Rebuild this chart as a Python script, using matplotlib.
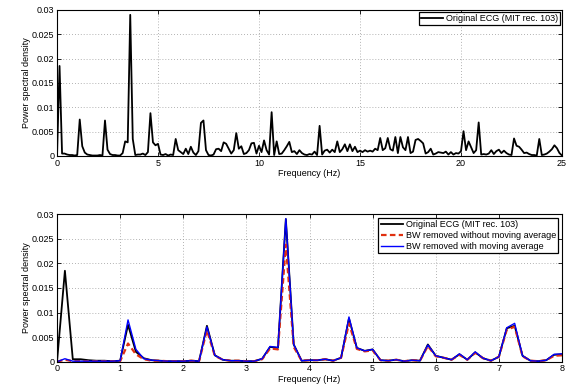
import numpy as np
import matplotlib
matplotlib.use("Agg")
import matplotlib.pyplot as plt

plt.rcParams['font.family'] = ['Liberation Sans', 'DejaVu Sans']

df = 0.125  # frequency resolution (Hz)

# original ECG spectrum, 0..25 Hz
psd_orig = [
    0, 0.0185, 0.0005, 0.0005, 0.0003, 0.0002, 0.0002, 0.0001,
    0.0002, 0.0075, 0.002, 0.0007, 0.0003, 0.0002, 0.0001, 0.0001,
    0.0001, 0.0002, 0.0001, 0.0073, 0.0013, 0.0004, 0.0002, 0.0002,
    0.0001, 0.0001, 0.0006, 0.003, 0.0028, 0.029, 0.0035, 0.0002,
    0.0003, 0.0003, 0.0005, 0.0002, 0.0008, 0.0088, 0.0028, 0.0022,
    0.0025, 0.0003, 0.0002, 0.0004, 0.0001, 0.0003, 0.0002, 0.0035,
    0.0012, 0.0008, 0.0004, 0.0015, 0.0004, 0.0019, 0.0007, 0.0002,
    0.0010, 0.0068, 0.0073, 0.0012, 0.0002, 0.0001, 0.0003, 0.0014,
    0.0015, 0.0010, 0.0028, 0.0025, 0.0015, 0.0005, 0.0012, 0.0047,
    0.0015, 0.0020, 0.0004, 0.0006, 0.0012, 0.0026, 0.0027, 0.0005,
    0.0021, 0.0008, 0.0032, 0.0012, 0.0003, 0.0090, 0.0002, 0.0030,
    0.0004, 0.0005, 0.0012, 0.0020, 0.0029, 0.0008, 0.0010, 0.0004,
    0.0012, 0.0006, 0.0003, 0.0002, 0.0004, 0.0003, 0.0009, 0.0002,
    0.0062, 0.0003, 0.0011, 0.0013, 0.0007, 0.0013, 0.0008, 0.0030,
    0.0008, 0.0014, 0.0024, 0.0010, 0.0024, 0.0010, 0.0019, 0.0008,
    0.0011, 0.0008, 0.0012, 0.0009, 0.0011, 0.0009, 0.0015, 0.0012,
    0.0037, 0.0012, 0.0016, 0.0037, 0.0014, 0.0011, 0.0039, 0.0006,
    0.0039, 0.0018, 0.0012, 0.0039, 0.0006, 0.0009, 0.0033, 0.0035,
    0.0031, 0.0026, 0.0005, 0.0008, 0.0015, 0.0003, 0.0005, 0.0008,
    0.0007, 0.0006, 0.0009, 0.0003, 0.0008, 0.0003, 0.0006, 0.0005,
    0.0010, 0.0051, 0.0012, 0.0030, 0.0018, 0.0006, 0.0012, 0.0069,
    0.0003, 0.0004, 0.0003, 0.0005, 0.0012, 0.0004, 0.0010, 0.0013,
    0.0006, 0.0011, 0.0006, 0.0003, 0.0002, 0.0036, 0.0021, 0.0019,
    0.0013, 0.0006, 0.0007, 0.0004, 0.0002, 0.0002, 0.0001, 0.0035,
    0.0002, 0.0003, 0.0005, 0.0009, 0.0014, 0.0022, 0.0016, 0.0006,
    0.0001,
]

# baseline wander removed, 0..8 Hz
psd_no_ma = [
    0, 0.0004, 0.0001, 0.0001, 0.0001, 0.0001, 0.0001, 0.0001,
    0.0001, 0.0037, 0.0015, 0.0005, 0.0002, 0.0002, 0.0001, 0.0001,
    0.0001, 0.0002, 0.0001, 0.0064, 0.0012, 0.0004, 0.0002, 0.0002,
    0.0001, 0.0001, 0.0005, 0.0027, 0.0025, 0.0238, 0.0030, 0.0002,
    0.0003, 0.0003, 0.0005, 0.0002, 0.0008, 0.0078, 0.0026, 0.0021,
    0.0023, 0.0003, 0.0002, 0.0004, 0.0001, 0.0003, 0.0002, 0.0032,
    0.0011, 0.0008, 0.0004, 0.0014, 0.0004, 0.0018, 0.0007, 0.0002,
    0.0010, 0.0065, 0.0071, 0.0011, 0.0002, 0.0001, 0.0003, 0.0012,
    0.0013,
]
psd_ma = [
    0, 0.0006, 0.0001, 0.0001, 0.0001, 0.0001, 0.0001, 0.0001,
    0.0002, 0.0085, 0.0025, 0.0006, 0.0003, 0.0002, 0.0001, 0.0001,
    0.0001, 0.0002, 0.0001, 0.0071, 0.0013, 0.0004, 0.0002, 0.0002,
    0.0001, 0.0001, 0.0006, 0.0031, 0.0029, 0.0291, 0.0035, 0.0002,
    0.0003, 0.0003, 0.0005, 0.0002, 0.0008, 0.0091, 0.0028, 0.0022,
    0.0025, 0.0003, 0.0002, 0.0004, 0.0001, 0.0003, 0.0002, 0.0034,
    0.0012, 0.0008, 0.0004, 0.0016, 0.0004, 0.0020, 0.0007, 0.0002,
    0.0010, 0.0069, 0.0078, 0.0012, 0.0002, 0.0001, 0.0003, 0.0015,
    0.0016,
]

f_full = np.arange(len(psd_orig)) * df
f_low = np.arange(len(psd_ma)) * df

yticks = [0, 0.005, 0.01, 0.015, 0.02, 0.025, 0.03]
yticklabels = ['0', '0.005', '0.01', '0.015', '0.02', '0.025', '0.03']

fig = plt.figure(figsize=(5.69, 3.87), dpi=100)
ax1 = fig.add_axes([0.1002, 0.5969, 0.8875, 0.3773])
ax2 = fig.add_axes([0.1002, 0.0654, 0.8875, 0.3811])


def style(ax, xmax, xticks):
    ax.set_xlim(0, xmax)
    ax.set_ylim(0, 0.03)
    ax.set_xticks(xticks)
    ax.set_yticks(yticks)
    ax.set_yticklabels(yticklabels)
    ax.grid(True, linestyle=(0, (1, 2.5)), color='#999999', linewidth=0.6)
    ax.tick_params(direction='in', length=3, width=0.6, labelsize=6.5,
                   top=True, right=True, pad=2)
    for s in ax.spines.values():
        s.set_linewidth(0.8)
    ax.set_xlabel('Frequency (Hz)', fontsize=6.5, labelpad=1)
    ax.set_ylabel('Power spectral density', fontsize=6.5, labelpad=0.5)


ax1.plot(f_full, psd_orig, color='black', lw=1.3, label='Original ECG (MIT rec. 103)')
style(ax1, 25, range(0, 26, 5))
leg1 = ax1.legend(loc='upper right', fontsize=6.5, fancybox=False, framealpha=1,
                  edgecolor='black', handlelength=2.4, borderpad=0.25,
                  borderaxespad=0.2, handletextpad=0.3)
leg1.get_frame().set_linewidth(0.9)

lo = int(8 / df) + 1
ax2.plot(f_low, psd_orig[:lo], color='black', lw=1.3, label='Original ECG (MIT rec. 103)')
ax2.plot(f_low, psd_no_ma, color='#e03010', lw=1.6, ls=(0, (2.5, 1.5)),
         label='BW removed without moving average')
ax2.plot(f_low, psd_ma, color='#0000ff', lw=1.0, label='BW removed with moving average')
style(ax2, 8, range(0, 9))
leg2 = ax2.legend(loc='upper right', fontsize=6.5, fancybox=False, framealpha=1,
                  edgecolor='black', handlelength=2.5, borderpad=0.25,
                  borderaxespad=0.4, handletextpad=0.3, labelspacing=0.2)
leg2.get_frame().set_linewidth(0.9)

fig.savefig('out.png', dpi=100)
